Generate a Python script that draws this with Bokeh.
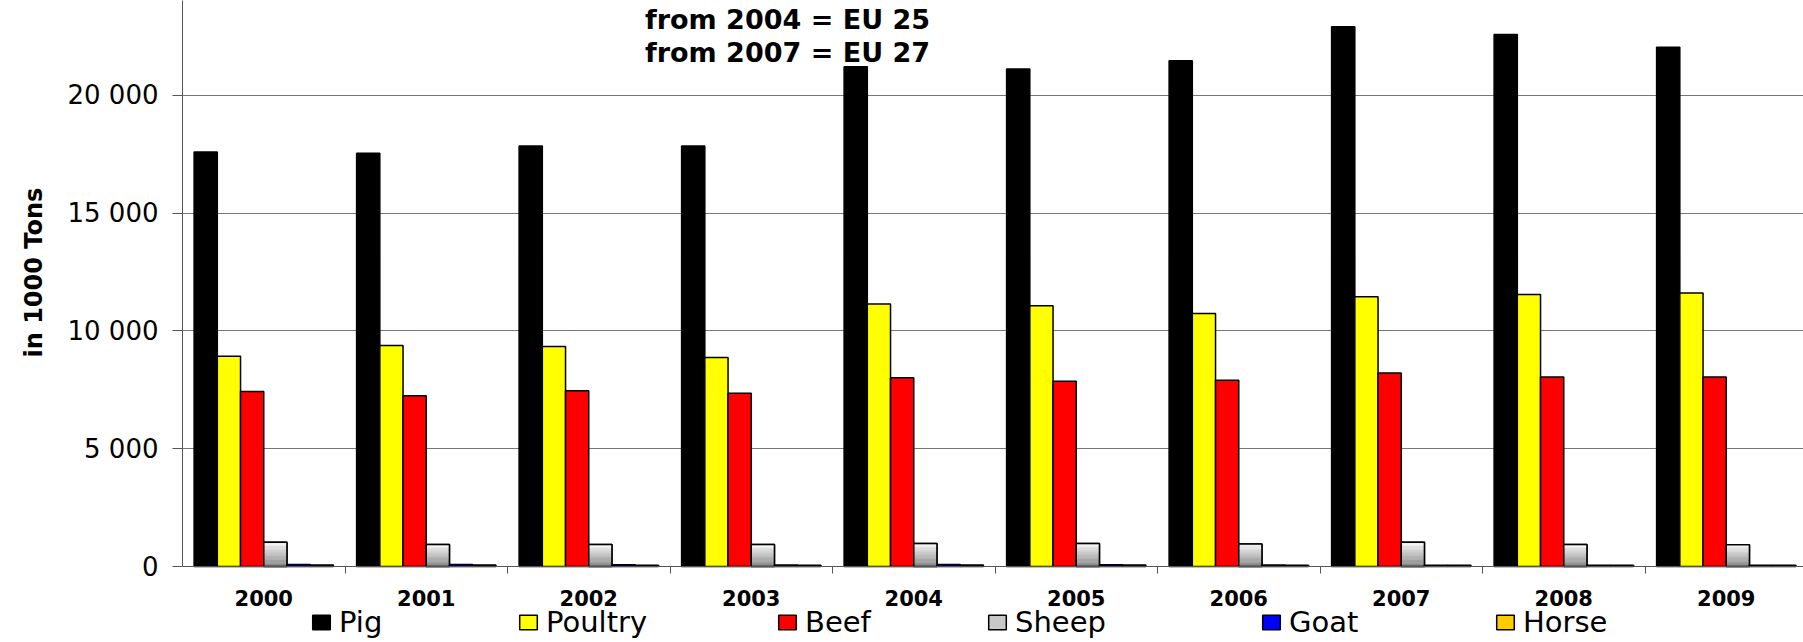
import numpy as np
from bokeh.plotting import figure
from bokeh.models import (Range1d, FixedTicker, Label, Legend, LegendItem, Span, Title,
                          ColumnDataSource, CustomJSTickFormatter)
from bokeh.core.properties import value
from bokeh.embed import file_html
from bokeh.resources import INLINE

# ---------------- data ----------------
years = ["2000", "2001", "2002", "2003", "2004", "2005", "2006", "2007", "2008", "2009"]
pig = [17600, 17550, 17850, 17850, 21220, 21120, 21470, 22920, 22590, 22040]
poultry = [8930, 9380, 9340, 8870, 11140, 11070, 10740, 11450, 11550, 11610]
beef = [7430, 7250, 7460, 7360, 8010, 7860, 7910, 8210, 8050, 8050]
sheep = [1030, 930, 930, 930, 980, 980, 950, 1030, 930, 920]
goat = [90, 90, 70, 60, 80, 70, 60, 50, 50, 50]
horse = [60, 60, 50, 50, 60, 60, 50, 50, 50, 50]
series_names = ["Pig", "Poultry", "Beef", "Sheep", "Goat", "Horse"]
y_ticks = [0, 5000, 10000, 15000, 20000]
note_lines = ["from 2004 = EU 25", "from 2007 = EU 27"]
y_label = "in 1000 Tons"

# ---------------- styles / layout ----------------
colors = ["#000000", "#FFFF00", "#FF0000", "#C8C8C8", "#0000FF", "#FFCC00"]
FONT = "DejaVu Sans"
AX = "#555555"
FIG_W, FIG_H = 1803, 642
LEFT = 182
PLOT_H = 566              # pixel height of the value area (0 .. y_max)
Y_MAX = 24030
px_per_unit = PLOT_H / Y_MAX
Y_MIN = -(FIG_H - PLOT_H) / px_per_unit   # room under zero for labels & legend
TICK_LEN = 7 / px_per_unit
X_MAX = (FIG_W - LEFT) / 162.5

p = figure(width=FIG_W, height=FIG_H, output_backend="svg", toolbar_location=None,
           x_range=Range1d(0, X_MAX), y_range=Range1d(Y_MIN, Y_MAX),
           min_border_left=LEFT, min_border_right=0, min_border_top=0,
           min_border_bottom=0, outline_line_color=None, x_axis_location=None)
p.background_fill_color = "white"

idx = np.arange(len(years), dtype=float)
bw = 1.0 / 7.0
start = (1.0 - 6 * bw) / 2.0
all_series = [pig, poultry, beef, sheep, goat, horse]

renderers = []
for j, vals in enumerate(all_series):
    vals = np.asarray(vals, dtype=float)
    left = idx + start + j * bw
    src = ColumnDataSource(dict(left=left, right=left + bw,
                                bottom=np.zeros_like(vals), top=vals))
    r = p.quad(left="left", right="right", bottom="bottom", top="top", source=src,
               fill_color=colors[j], line_color="black", line_width=1.5)
    if series_names[j] == "Sheep":
        # vertical gradient: gray at bottom -> white at top
        N = 18
        for k in range(N):
            g = int(round(0x80 + (0xFF - 0x80) * (k + 0.5) / N))
            col = "#%02x%02x%02x" % (g, g, g)
            p.quad(left=left, right=left + bw, bottom=vals * k / N, top=vals * (k + 1) / N,
                   fill_color=col, line_color=None)
        p.quad(left=left, right=left + bw, bottom=np.zeros_like(vals), top=vals,
               fill_color=None, line_color="black", line_width=1.5)
    renderers.append(r)

# ---------------- grids / category axis ----------------
p.ygrid.ticker = FixedTicker(ticks=y_ticks[1:])
p.ygrid.grid_line_color = "#777777"
p.ygrid.grid_line_width = 1

# x axis line at zero and separator ticks between categories
p.add_layout(Span(location=0, dimension="width", line_color=AX, line_width=1))
p.xgrid.ticker = FixedTicker(ticks=list(range(len(years) + 1)))
p.xgrid.cross_bounds = (-TICK_LEN, 0)
p.xgrid.grid_line_color = AX
p.xgrid.grid_line_width = 1

# category labels
p.text(x=idx + 0.5, y=np.zeros_like(idx), text=years, y_offset=23,
       text_align="center", text_baseline="top", text_font=value(FONT),
       text_font_style="bold", text_font_size="21px", text_color="black")

# ---------------- y axis ----------------
ya = p.yaxis[0]
ya.bounds = (0, Y_MAX)
ya.ticker = FixedTicker(ticks=y_ticks)
ya.formatter = CustomJSTickFormatter(
    code="const s = Math.round(tick).toString(); return s.replace(/\\B(?=(\\d{3})+(?!\\d))/g, ' ');")
ya.minor_tick_line_color = None
ya.major_tick_out = 10
ya.major_tick_in = 0
ya.major_tick_line_color = AX
ya.axis_line_color = AX
ya.major_label_text_font = FONT
ya.major_label_text_font_size = "26px"
ya.major_label_text_color = "black"
ya.major_label_standoff = 14

p.add_layout(Title(text=y_label, align="left", offset=FIG_H - 357, standoff=30,
                   vertical_align="top",
                   text_font=FONT, text_font_style="bold", text_font_size="24px",
                   text_color="black"), "left")

# ---------------- note text ----------------
for i, line in enumerate(note_lines):
    p.add_layout(Label(x=787 - LEFT, y=FIG_H - 19 - 33 * i, x_units="screen", y_units="screen",
                       text=line, text_font=FONT, text_font_style="bold",
                       text_font_size="27px", text_align="center",
                       text_baseline="alphabetic", text_color="black"))

# ---------------- legend ----------------
leg_x = [128, 335, 594, 804, 1078, 1312]
for j, name in enumerate(series_names):
    leg = Legend(items=[LegendItem(label=name, renderers=[renderers[j]])],
                 location=(leg_x[j], 3), orientation="horizontal",
                 glyph_width=22, glyph_height=18, label_height=18, label_standoff=7,
                 padding=0, margin=0, spacing=0,
                 border_line_color=None, background_fill_alpha=0,
                 label_text_font=FONT, label_text_font_size="29px",
                 label_text_color="black")
    p.add_layout(leg)

open("out.html", "w").write(file_html(p, INLINE))
